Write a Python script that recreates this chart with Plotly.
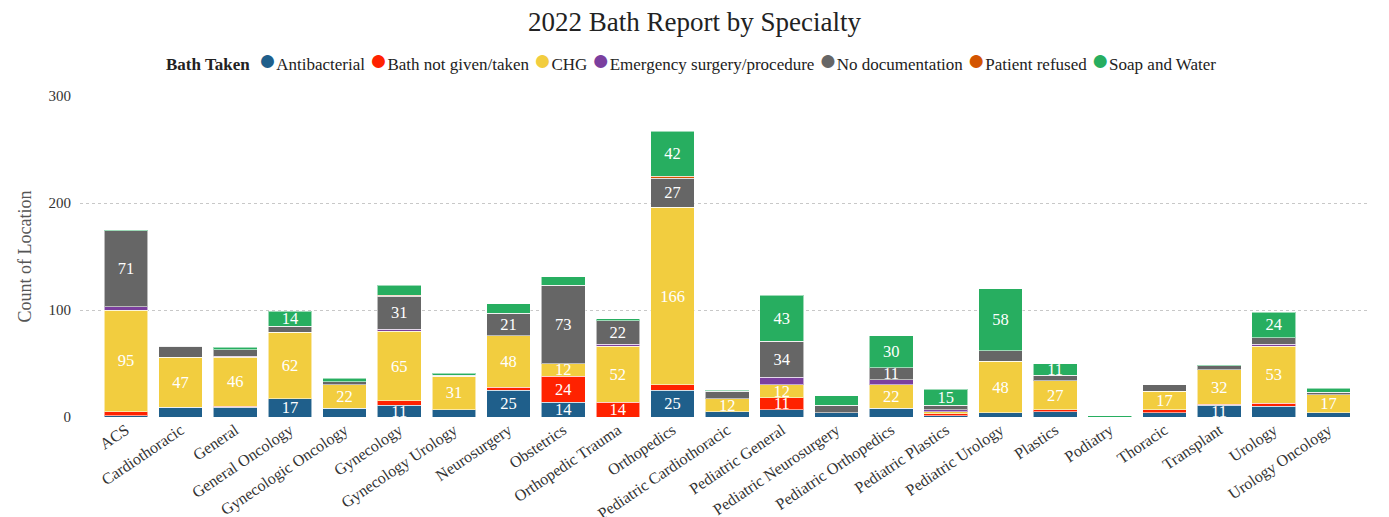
import plotly.graph_objects as go

categories = ["ACS", "Cardiothoracic", "General", "General Oncology", "Gynecologic Oncology",
              "Gynecology", "Gynecology Urology", "Neurosurgery", "Obstetrics", "Orthopedic Trauma",
              "Orthopedics", "Pediatric Cardiothoracic", "Pediatric General", "Pediatric Neurosurgery",
              "Pediatric Orthopedics", "Pediatric Plastics", "Pediatric Urology", "Plastics", "Podiatry",
              "Thoracic", "Transplant", "Urology", "Urology Oncology"]

antibacterial   = [1, 9, 9, 17, 8, 11, 7, 25, 14, 0, 25, 5, 7, 4, 8, 1, 4, 5, 0, 4, 11, 10, 4]
bath_not_given  = [4, 0, 1, 0, 0, 4, 0, 3, 24, 14, 5, 0, 11, 0, 0, 2, 0, 2, 0, 3, 1, 3, 0]
chg             = [95, 47, 46, 62, 22, 65, 31, 48, 12, 52, 166, 12, 12, 0, 22, 2, 48, 27, 0, 17, 32, 53, 17]
emergency       = [3, 0, 1, 0, 0, 2, 0, 0, 0, 2, 0, 0, 7, 0, 5, 2, 0, 0, 0, 0, 0, 2, 0]
no_documentation= [71, 10, 6, 6, 3, 31, 1, 21, 73, 22, 27, 7, 34, 7, 11, 4, 10, 5, 0, 6, 4, 6, 2]
patient_refused = [0, 0, 0, 0, 0, 1, 0, 0, 0, 0, 2, 0, 0, 0, 0, 0, 0, 0, 0, 0, 0, 0, 0]
soap_and_water  = [1, 0, 2, 14, 3, 9, 2, 9, 8, 2, 42, 1, 43, 9, 30, 15, 58, 11, 1, 0, 1, 24, 4]

series = [
    ("Antibacterial", antibacterial, "#1f5f8b"),
    ("Bath not given/taken", bath_not_given, "#ff2200"),
    ("CHG", chg, "#f2cd3f"),
    ("Emergency surgery/procedure", emergency, "#7b3f9e"),
    ("No documentation", no_documentation, "#666666"),
    ("Patient refused", patient_refused, "#d35400"),
    ("Soap and Water", soap_and_water, "#27ae60"),
]

FONT = "Liberation Serif, Times New Roman, serif"

fig = go.Figure()
for name, vals, color in series:
    fig.add_trace(go.Bar(
        x=categories, y=vals, name=name,
        marker=dict(color=color, line=dict(color="rgba(255,255,255,0.55)", width=1)),
        text=[str(v) if v >= 11 else "" for v in vals],
        textposition="inside", insidetextanchor="middle", textangle=0,
        constraintext="none",
        textfont=dict(color="white", size=16.5, family=FONT),
        showlegend=False, hoverinfo="x+y+name",
    ))

# legend drawn as a single line of text with coloured circles
legend_parts = ["<b>Bath Taken</b> "]
for name, vals, color in series:
    legend_parts.append(f"<span style='color:{color};font-size:30px'>●</span>{name}")
legend_text = " ".join(legend_parts)

N = len(categories)
fig.update_layout(
    barmode="stack",
    bargap=0.2,
    width=1389, height=517,
    margin=dict(l=80, r=19, t=96, b=100, autoexpand=False),
    paper_bgcolor="white", plot_bgcolor="white",
    font=dict(family=FONT, color="#222222", size=15),
    title=dict(text="2022 Bath Report by Specialty", x=0.5, xanchor="center",
               y=1 - 22 / 517, yref="container", yanchor="middle",
               font=dict(size=27, family=FONT, color="#222222")),
    showlegend=False,
    annotations=[dict(text=legend_text, xref="paper", yref="paper", x=0.474, y=1.115,
                      xanchor="center", yanchor="middle", showarrow=False,
                      font=dict(size=17, family=FONT, color="#222222"))],
    uniformtext=dict(minsize=10, mode="show"),
)
fig.update_yaxes(range=[0, 300], tickvals=[0, 100, 200, 300], showgrid=True,
                 gridcolor="#c8c8c8", griddash="dot", gridwidth=1, zeroline=False,
                 automargin=False,
                 title=dict(text="Count of Location", font=dict(size=18, family=FONT, color="#555555"),
                            standoff=12),
                 tickfont=dict(size=15, family=FONT, color="#333333"), ticks="", showline=False,
                 ticklabelstandoff=8)
fig.update_xaxes(tickangle=-34, tickfont=dict(size=16, family=FONT, color="#333333"),
                 showline=False, ticks="", showgrid=False, automargin=False,
                 range=[-0.84, N - 1 + 0.76])

fig.write_html("out.html")
